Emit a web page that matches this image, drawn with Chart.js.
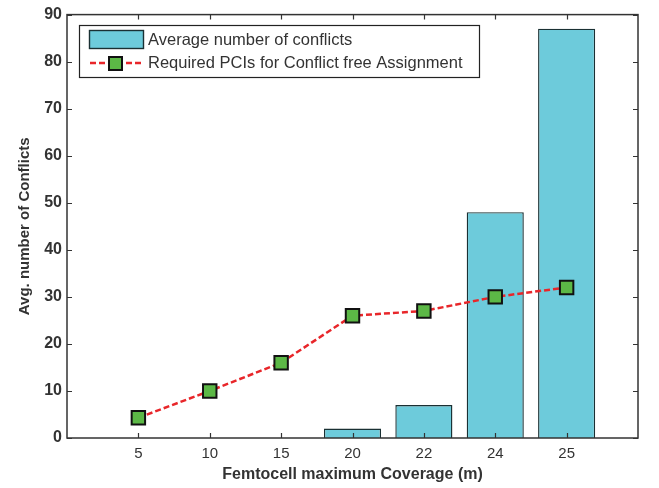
<!DOCTYPE html>
<html>
<head>
<meta charset="utf-8">
<script src="https://cdn.jsdelivr.net/npm/chart.js@4.4.1/dist/chart.umd.min.js"></script>
<style>
  html, body { margin: 0; padding: 0; background: #ffffff; }
  #wrap { width: 659px; height: 488px; position: relative; }
</style>
</head>
<body>
<div id="wrap"><canvas id="c" width="659" height="488"></canvas></div>
<script>
// ---- data ----
const categories = ['5', '10', '15', '20', '22', '24', '25'];
const avgConflicts = [0, 0, 0, 2, 7, 48, 87];
const requiredPCIs = [4.3, 10, 16, 26, 27, 30, 32];
const yTicks = [0, 10, 20, 30, 40, 50, 60, 70, 80, 90];
const seriesNames = ['Average number of conflicts', 'Required PCIs for Conflict free Assignment'];
const xTitle = 'Femtocell maximum Coverage (m)';
const yTitle = 'Avg. number of Conflicts';

const BAR_FILL = '#6dcbdb';
const BAR_EDGE = '#1a3033';
const LINE_RED = '#e8262a';
const MARK_FILL = '#5cb846';
const MARK_EDGE = '#111111';
const AXIS_COL = '#333333';
const TEXT_COL = '#333333';
const FONT = 'Arial, "Liberation Sans", sans-serif';

const barData = categories.map((c, i) => ({ x: i + 1, y: avgConflicts[i] }));
const lineData = categories.map((c, i) => ({ x: i + 1, y: requiredPCIs[i] }));

const framePlugin = {
  id: 'frame',
  afterDatasetsDraw(chart) {
    const { ctx, chartArea: a, scales } = chart;
    const xs = scales.x, ys = scales.y;
    ctx.save();
    // box
    ctx.strokeStyle = AXIS_COL;
    ctx.lineWidth = 1.5;
    ctx.strokeRect(a.left, a.top, a.right - a.left, a.bottom - a.top);
    // inward ticks
    ctx.lineWidth = 1.2;
    const tl = 5;
    ctx.beginPath();
    categories.forEach((c, i) => {
      const px = Math.round(xs.getPixelForValue(i + 1)) + 0.5;
      ctx.moveTo(px, a.bottom); ctx.lineTo(px, a.bottom - tl);
      ctx.moveTo(px, a.top); ctx.lineTo(px, a.top + tl);
    });
    yTicks.forEach(v => {
      const py = Math.round(ys.getPixelForValue(v)) + 0.5;
      ctx.moveTo(a.left, py); ctx.lineTo(a.left + tl, py);
      ctx.moveTo(a.right, py); ctx.lineTo(a.right - tl, py);
    });
    ctx.stroke();

    // legend
    const lx = 79, ly = 25, lw = 400, lh = 52;
    ctx.fillStyle = '#ffffff';
    ctx.fillRect(lx, ly, lw, lh);
    ctx.strokeStyle = '#222222';
    ctx.lineWidth = 1.2;
    ctx.strokeRect(lx + 0.5, ly + 0.5, lw, lh);
    // bar swatch
    ctx.fillStyle = BAR_FILL;
    ctx.fillRect(89, 30, 54, 18);
    ctx.strokeStyle = BAR_EDGE;
    ctx.lineWidth = 1.4;
    ctx.strokeRect(89.5, 30.5, 54, 18);
    // line swatch
    ctx.strokeStyle = LINE_RED;
    ctx.lineWidth = 2.5;
    ctx.setLineDash([6, 3]);
    ctx.beginPath();
    ctx.moveTo(90, 63); ctx.lineTo(142, 63);
    ctx.stroke();
    ctx.setLineDash([]);
    ctx.fillStyle = MARK_FILL;
    ctx.fillRect(109, 57, 13, 13);
    ctx.strokeStyle = MARK_EDGE;
    ctx.lineWidth = 2;
    ctx.strokeRect(109, 57, 13, 13);
    // texts
    ctx.fillStyle = TEXT_COL;
    ctx.font = '16.5px ' + FONT;
    ctx.textBaseline = 'middle';
    ctx.textAlign = 'left';
    ctx.fillText(seriesNames[0], 148, 40);
    ctx.fillText(seriesNames[1], 148, 63);
    ctx.restore();
  }
};

new Chart(document.getElementById('c'), {
  data: {
    datasets: [
      {
        type: 'line',
        label: seriesNames[1],
        data: lineData,
        order: 0,
        borderColor: LINE_RED,
        borderWidth: 2.5,
        borderDash: [6, 3],
        fill: false,
        tension: 0,
        pointStyle: 'rect',
        pointRadius: 9.5,
        pointBorderWidth: 2,
        pointBackgroundColor: MARK_FILL,
        pointBorderColor: MARK_EDGE
      },
      {
        type: 'bar',
        label: seriesNames[0],
        data: barData,
        order: 1,
        backgroundColor: BAR_FILL,
        borderColor: BAR_EDGE,
        borderWidth: 1.4,
        categoryPercentage: 1.0,
        barPercentage: 0.8
      }
    ]
  },
  options: {
    responsive: false,
    animation: false,
    devicePixelRatio: 1,
    layout: { padding: { top: 13, right: 21, bottom: 0, left: 0 } },
    plugins: { legend: { display: false }, tooltip: { enabled: false } },
    scales: {
      x: {
        type: 'linear',
        min: 0, max: 8,
        offset: false,
        grid: { display: false, drawTicks: false },
        border: { display: false },
        afterBuildTicks(scale) {
          scale.ticks = categories.map((c, i) => ({ value: i + 1 }));
        },
        afterFit(scale) { scale.height = 50; },
        ticks: {
          padding: 7,
          autoSkip: false,
          maxRotation: 0,
          color: TEXT_COL,
          font: { family: FONT, size: 15 },
          callback(v) { return categories[Math.round(v) - 1] || ''; }
        },
        title: {
          display: true, text: xTitle, color: TEXT_COL,
          font: { family: FONT, size: 16, weight: 'bold' },
          padding: { top: 0, bottom: 4 }
        }
      },
      y: {
        min: 0, max: 90,
        grid: { display: false, drawTicks: false },
        border: { display: false },
        afterBuildTicks(scale) {
          scale.ticks = yTicks.map(v => ({ value: v }));
        },
        afterFit(scale) { scale.width = 67; },
        ticks: {
          padding: 5,
          color: TEXT_COL,
          font: { family: FONT, size: 16, weight: 'bold' }
        },
        title: {
          display: true, text: yTitle, color: TEXT_COL,
          font: { family: FONT, size: 15, weight: 'bold' },
          padding: { top: 16, bottom: 0 }
        }
      }
    }
  },
  plugins: [framePlugin]
});
</script>
</body>
</html>
